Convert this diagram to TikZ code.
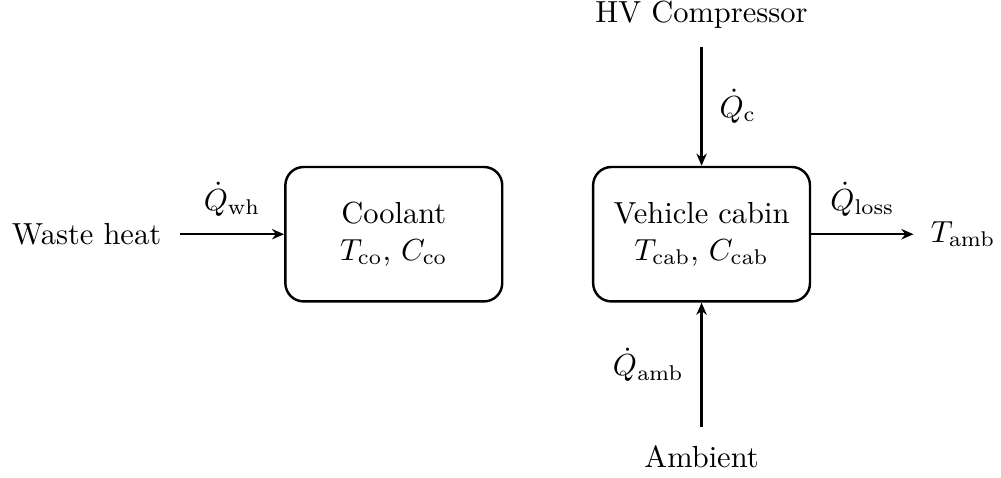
\documentclass[tikz,border=0pt]{standalone}
\usepackage{amsmath}
\usetikzlibrary{arrows.meta,positioning}

\begin{document}
\begin{tikzpicture}[
  block/.style={draw, thick, rounded corners=6pt, minimum width=2.5cm, minimum height=1.55cm, align=center},
  ext/.style={inner sep=6pt},
  flow/.style={thick, -{Stealth[length=4pt, width=3.4pt]}},
  qlab/.style={midway, inner sep=5.5pt},
]
\useasboundingbox (-4.54,-2.80) rectangle (7.00,2.70);
\node[block] (coolant) at (0,0) {Coolant\\$T_{\mathrm{co}}$, $C_{\mathrm{co}}$};
\node[block, right=1.02cm of coolant] (cabin) {Vehicle cabin\\$T_{\mathrm{cab}}$, $C_{\mathrm{cab}}$};
\node[ext, left=1.2cm of coolant] (waste) {Waste heat};
\node[ext, above=1.37cm of cabin] (hvcomp) {HV Compressor};
\node[ext, below=1.43cm of cabin] (ambient) {Ambient};
\node[ext, inner sep=5.5pt, right=1.18cm of cabin] (tamb) {$T_{\mathrm{amb}}$};
\draw[flow] (waste) -- (coolant) node[qlab, above] {$\dot{Q}_{\mathrm{wh}}$};
\draw[flow] (hvcomp) -- (cabin) node[qlab, right] {$\dot{Q}_{\mathrm{c}}$};
\draw[flow] (ambient) -- (cabin) node[qlab, left] {$\dot{Q}_{\mathrm{amb}}$};
\draw[flow] (cabin) -- (tamb) node[qlab, above] {$\dot{Q}_{\mathrm{loss}}$};
\end{tikzpicture}
\end{document}
